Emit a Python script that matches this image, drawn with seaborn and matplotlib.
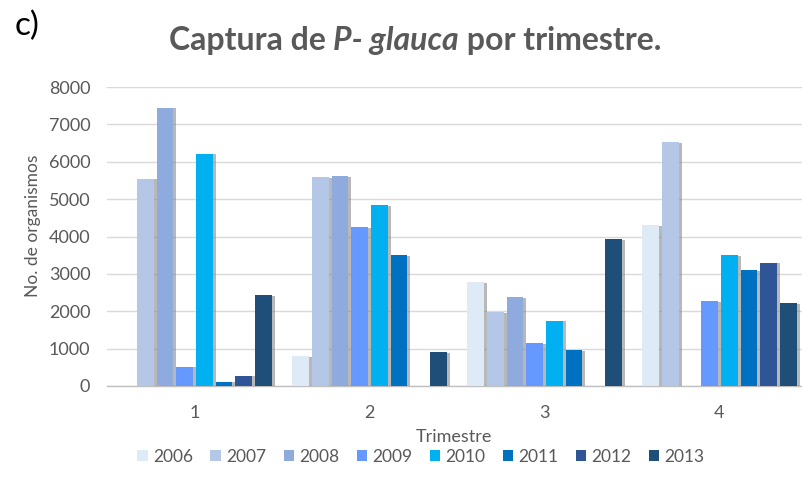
import matplotlib
matplotlib.use("Agg")
import matplotlib.pyplot as plt
import matplotlib.patheffects as pe
import seaborn as sns
import pandas as pd
from matplotlib.ticker import FixedLocator

# ---- data ----
trimestres = ["1", "2", "3", "4"]
years = ["2006", "2007", "2008", "2009", "2010", "2011", "2012", "2013"]
v2006 = [0, 790, 2790, 4300]
v2007 = [5550, 5580, 1970, 6530]
v2008 = [7450, 5620, 2370, 0]
v2009 = [520, 4260, 1140, 2280]
v2010 = [6220, 4830, 1750, 3510]
v2011 = [120, 3500, 960, 3100]
v2012 = [280, 0, 0, 3300]
v2013 = [2440, 900, 3920, 2210]
colors = ["#DEEBF7", "#B4C7E7", "#8FAADC", "#6699FF", "#00B0F0", "#0070C0", "#2F5597", "#1F4E79"]

series = [v2006, v2007, v2008, v2009, v2010, v2011, v2012, v2013]
rows = []
for y, vals in zip(years, series):
    for t, v in zip(trimestres, vals):
        rows.append({"Trimestre": t, "Año": y, "Valor": v})
df = pd.DataFrame(rows)

sns.set_style("white")
plt.rcParams["font.family"] = ["Lato", "DejaVu Sans"]
GRAY = "#595959"

fig = plt.figure(figsize=(8.03, 4.96), dpi=100)
ax = fig.add_axes([107 / 803, 1 - 386 / 496, 700 / 803, 299 / 496])

sns.barplot(data=df, x="Trimestre", y="Valor", hue="Año", order=trimestres,
            hue_order=years, palette=colors, width=0.9, gap=0.15,
            errorbar=None, saturation=1, ax=ax, zorder=3)

shadow = [pe.SimplePatchShadow(offset=(2.2, -0.6), shadow_rgbFace="#7f7f7f", alpha=0.55), pe.Normal()]
for p in ax.patches:
    p.set_path_effects(shadow)
    p.set_linewidth(0)

ax.set_xlim(-0.5, 3.5)
ax.set_ylim(0, 8000)
ax.set_yticks(range(0, 8001, 1000))
ax.yaxis.grid(True, color="#D9D9D9", lw=1, zorder=0)
ax.set_axisbelow(True)
for s in ["left", "top", "right"]:
    ax.spines[s].set_visible(False)
ax.spines["bottom"].set_color("#BFBFBF")
ax.spines["bottom"].set_linewidth(1)

ax.tick_params(axis="y", length=0, pad=12, labelsize=13, labelcolor=GRAY)
ax.tick_params(axis="x", which="major", length=5, width=1, color="#BFBFBF",
               direction="out", pad=9, labelsize=13, labelcolor=GRAY)
ax.xaxis.set_minor_locator(FixedLocator([-0.5, 0.5, 1.5, 2.5, 3.5]))
ax.tick_params(axis="x", which="minor", length=5, width=1, color="#BFBFBF", direction="out")

ax.set_xlabel("Trimestre", fontsize=13, color=GRAY)
ax.xaxis.label.set_va("center")
ax.xaxis.set_label_coords((454 - 107) / 700, (386 - 437) / 299)
ax.set_ylabel("No. de organismos", fontsize=12.5, color=GRAY)
ax.yaxis.label.set_va("center")
ax.yaxis.set_label_coords((33 - 107) / 700, (386 - 226) / 299)

ax.legend_.remove()
handles, labels = ax.get_legend_handles_labels()
leg = fig.legend(handles, labels, loc="center", bbox_to_anchor=(421 / 803, 1 - 457 / 496),
                 ncol=8, frameon=False, fontsize=12.5, handlelength=0.6, handleheight=0.6,
                 handletextpad=0.3, columnspacing=1.0, labelcolor=GRAY)
for h in leg.legend_handles:
    h.set_path_effects([])

# title with italic part
fig.text(27 / 803, 1 - 26 / 496, "c)", fontsize=24, color="black", ha="center", va="center")
parts = [("Captura de ", "normal"), ("P- glauca", "italic"), (" por trimestre.", "normal")]
fig.canvas.draw()
renderer = fig.canvas.get_renderer()
texts = []
widths = []
for s, style in parts:
    t = fig.text(0, 1 - 50 / 496, s, fontsize=23, fontweight="bold", style=style,
                 color=GRAY, ha="left", va="baseline")
    texts.append(t)
    widths.append(t.get_window_extent(renderer).width)
total = sum(widths)
x0 = 415 - total / 2
for t, w in zip(texts, widths):
    t.set_x(x0 / 803)
    x0 += w

fig.savefig("out.png", dpi=100)
